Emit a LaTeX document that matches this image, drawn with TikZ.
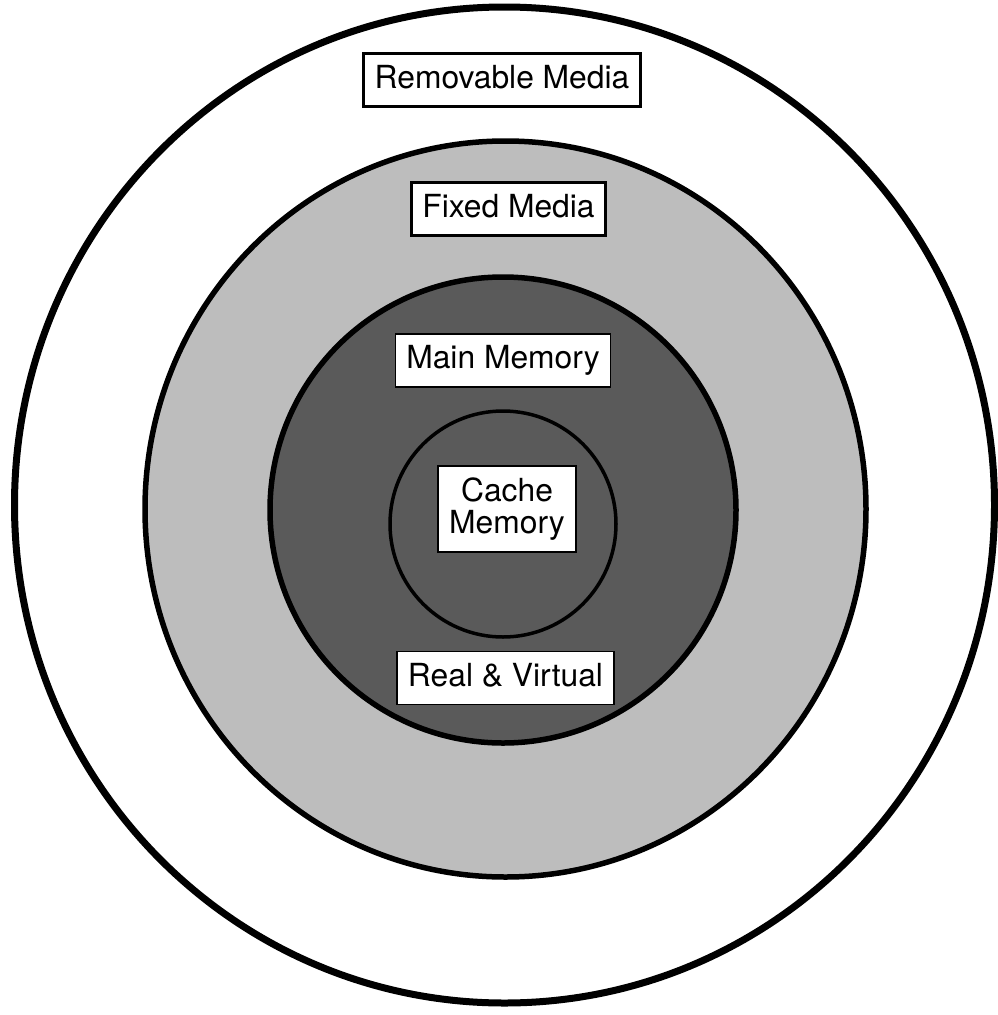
\documentclass[tikz,border=0pt]{standalone}
\usepackage{fontspec}
\setmainfont{TeX Gyre Heros}
\definecolor{Ink}{HTML}{000000}
\definecolor{Shade}{HTML}{BDBDBD}
\definecolor{Deep}{HTML}{5A5A5A}
\tikzset{
  label box/.style={draw=Ink,fill=white,line width=2pt,inner xsep=11pt,inner ysep=0pt,
    minimum height=53pt,text height=23pt,text depth=6.5pt,
    font=\fontsize{31.8}{31.5}\selectfont},
  stack box/.style={draw=Ink,fill=white,line width=2pt,inner xsep=11pt,inner ysep=12pt,
    align=center,font=\fontsize{31.8}{31.5}\selectfont}
}

\begin{document}
\begin{tikzpicture}[x=1pt,y=-1pt]
    \useasboundingbox (0,0) rectangle (997,1015);
    % storage levels, outermost first
    \draw[line width=7pt,Ink,fill=white] (504.5,505) ellipse [x radius=490pt,y radius=498pt];
    \draw[line width=5.5pt,Ink,fill=Shade] (505.5,509) ellipse [x radius=360.5pt,y radius=368pt];
    \draw[line width=5.5pt,Ink,fill=Deep] (503,510) circle (233pt);
    \draw[line width=3.5pt,Ink] (503,524) circle (113pt);
    % level labels
    \node[label box,line width=2.5pt] (removable) at (502,80) {Removable Media};
    \node[label box,line width=3pt] (fixed) at (508.5,209) {Fixed Media};
    \node[label box,line width=1.5pt] (mainmem) at (503,360.5) {Main Memory};
    \node[stack box,line width=1.5pt] (cache) at (507,509) {Cache\\Memory};
    \node[label box,line width=1.5pt] (realvirt) at (505.5,678) {Real \& Virtual};
\end{tikzpicture}
\end{document}
